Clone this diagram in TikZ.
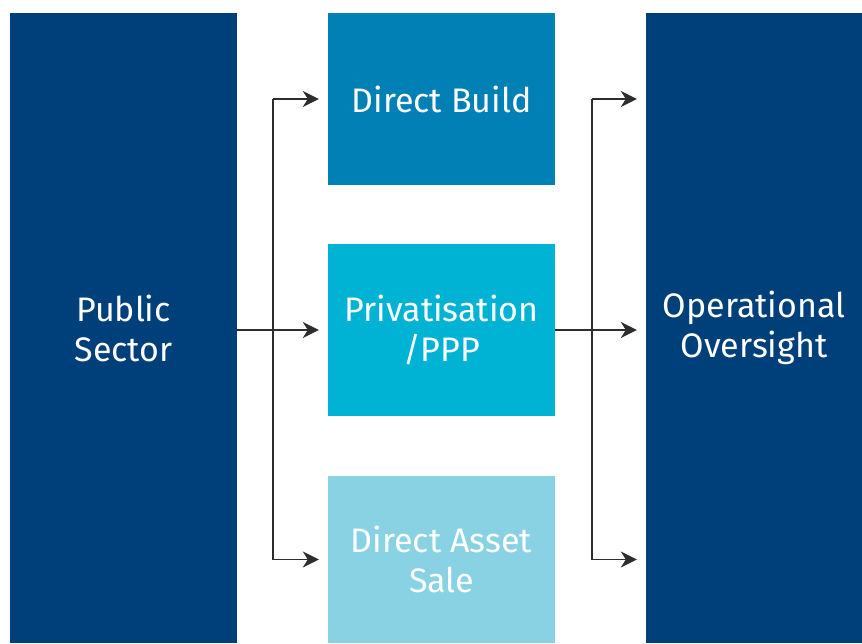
\documentclass[tikz,border=0pt]{standalone}
\usepackage{fontspec}
\setmainfont{Fira Sans}
\usetikzlibrary{arrows.meta}
\definecolor{navy}{RGB}{0,64,122}
\definecolor{dbblue}{RGB}{0,128,180}
\definecolor{pvblue}{RGB}{0,178,212}
\definecolor{dablue}{RGB}{136,210,228}
\definecolor{linegray}{RGB}{45,45,45}
\tikzset{
  blk/.style={rectangle, inner sep=0pt, text=white, align=center,
    font=\fontsize{34}{40}\selectfont},
  conn/.style={draw=linegray, line width=1.5pt},
  arr/.style={conn, -{Stealth[length=16pt,width=16pt,inset=5pt]}, shorten >=9pt}
}
\begin{document}
\begin{tikzpicture}[x=1pt,y=-1pt]
\useasboundingbox (0,0) rectangle (862,643);
\node[blk, fill=navy, minimum width=227pt, minimum height=630pt] (ps) at (123.5,328) {Public\\Sector};
\node[blk, fill=dbblue, minimum width=227pt, minimum height=172pt] (db) at (441.5,99) {Direct Build};
\node[blk, fill=pvblue, minimum width=227pt, minimum height=172pt] (pv) at (441.5,330) {Privatisation\\/PPP};
\node[blk, fill=dablue, minimum width=227pt, minimum height=167pt] (da) at (441.5,559.5) {Direct Asset\\Sale};
\node[blk, fill=navy, minimum width=216pt, minimum height=630pt] (oo) at (754,328) {Operational\\Oversight};
\coordinate (jl) at (273,330);
\coordinate (jr) at (592,330);
% left branch
\draw[conn] (db.west -| jl) -- (da.west -| jl);
\draw[conn] (ps.east |- pv.west) -- (jl);
\draw[arr] (jl) -- (pv.west);
\draw[arr] (db.west -| jl) -- (db.west);
\draw[arr] (da.west -| jl) -- (da.west);
% right branch
\draw[conn] (db.east -| jr) -- (da.east -| jr);
\draw[conn] (pv.east) -- (jr);
\draw[arr] (jr) -- (jr -| oo.west);
\draw[arr] (db.east -| jr) -- (db.east -| oo.west);
\draw[arr] (da.east -| jr) -- (da.east -| oo.west);
\end{tikzpicture}
\end{document}
